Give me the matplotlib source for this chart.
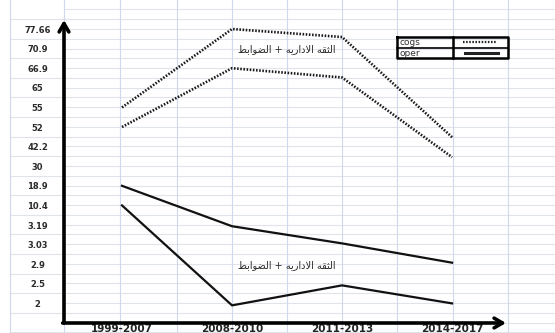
import numpy as np
import matplotlib
matplotlib.use('Agg')
import matplotlib.pyplot as plt

# Data
periods = ['1999-2007', '2008-2010', '2011-2013', '2014-2017']
tick_vals = [2, 2.5, 2.9, 3.03, 3.19, 10.4, 18.9, 30, 42.2, 52, 55, 65, 66.9, 70.9, 77.66]
cogs_a = [55, 77.66, 74.9, 46.9]
cogs_b = [52, 66.9, 66.0, 35.6]
oper_a = [18.9, 3.18, 3.04, 2.91]
oper_b = [10.4, 1.8, 2.46, 2.0]

# uneven axis: every tick label sits on its own row
ladder_v = np.array([0] + tick_vals + [85.0])
ladder_p = np.arange(-1, len(tick_vals) + 1, dtype=float)


def fwd(v):
    return np.interp(v, ladder_v, ladder_p)


def inv(p):
    return np.interp(p, ladder_p, ladder_v)


W, H = 555, 333
fig = plt.figure(figsize=(W / 100, H / 100), dpi=100)

# spreadsheet grid in the background (pixel coords)
bg = fig.add_axes([0, 0, 1, 1])
bg.set_xlim(0, W)
bg.set_ylim(H, 0)
bg.axis('off')
for k in range(-2, 32):
    y = 29 + 9.785 * k
    bg.plot([64, W], [y, y], color='#dfe3ea', lw=0.8)
for k in range(0, 17):
    y = 19.2 + 19.57 * k
    bg.plot([10, 64], [y, y], color='#dfe3ea', lw=0.8)
for x in [10, 64, 120, 177, 232, 287, 342, 397, 453, 508]:
    bg.plot([x, x], [0, H], color='#cfd8ec', lw=0.8)

# legend table
bg.plot([397, 508, 508, 397, 397], [37, 37, 58, 58, 37], color='k', lw=1.8)
bg.plot([453, 453], [37, 58], color='k', lw=1.8)
bg.plot([397, 508], [48, 48], color='k', lw=1.2)
bg.text(400, 42.5, 'cogs', fontsize=6.5, va='center', color='#333')
bg.text(400, 53, 'oper', fontsize=6.5, va='center', color='#333')
bg.plot([463, 497], [42, 42], color='#222', lw=1.6, ls=(0, (0.7, 0.7)))
bg.plot([465, 498], [53, 53], color='#222', lw=2.2)

# main chart
ax = fig.add_axes([64 / W, (H - 323) / H, (506 - 64) / W, (323 - 20) / H])
ax.patch.set_alpha(0)
ax.set_yscale('function', functions=(fwd, inv))
ax.set_ylim(0, inv(14.46))
ax.set_xlim(-0.527, 3.49)
for s in ax.spines.values():
    s.set_visible(False)

x = np.arange(len(periods))
ax.plot(x, cogs_a, color='#1a1a1a', lw=1.9, ls=(0, (0.6, 0.6)))
ax.plot(x, cogs_b, color='#1a1a1a', lw=1.9, ls=(0, (0.6, 0.6)))
ax.plot(x, oper_a, color='#111', lw=1.6)
ax.plot(x, oper_b, color='#111', lw=1.6)

ax.set_xticks(x)
ax.set_xticklabels(periods, fontsize=7.5, fontweight='bold', color='#222')
ax.set_yticks(tick_vals)
ax.set_yticklabels([f'{v:g}' for v in tick_vals], fontsize=6, fontweight='bold', color='#2a2a2a')
ax.tick_params(axis='both', length=0)
ax.tick_params(axis='x', pad=0.5)
ax.tick_params(axis='y', pad=19)
for lab in ax.get_yticklabels():
    lab.set_horizontalalignment('center')
ax.yaxis.set_minor_locator(matplotlib.ticker.NullLocator())

# axis arrows
ap = dict(arrowstyle='->,head_length=0.6,head_width=0.35', lw=2.6, color='k',
          shrinkA=0, shrinkB=0)
ax.annotate('', xy=(0, 1.0), xytext=(0, 0), xycoords='axes fraction', arrowprops=ap)
ax.annotate('', xy=(1.0, 0), xytext=(-0.003, 0), xycoords='axes fraction', arrowprops=ap)

# Arabic caption, shaped glyphs in visual order
w1 = '\ufe8d\ufedf\ufe9c\ufed8\ufeea'
w2 = '\ufe8d\ufefb\ufea9\ufe8d\ufead\ufef3\ufeea'
w3 = '\ufe8d\ufedf\ufec0\ufeee\ufe8d\ufe91\ufec2'
caption = (w1 + ' ' + w2 + ' + ' + w3)[::-1]
ax.text(1.5, 70.9, caption, fontsize=7, ha='center', va='center', color='#2a2a2a')
ax.text(1.5, 2.88, caption, fontsize=7, ha='center', va='center', color='#2a2a2a')

fig.savefig('out.png', dpi=100)
